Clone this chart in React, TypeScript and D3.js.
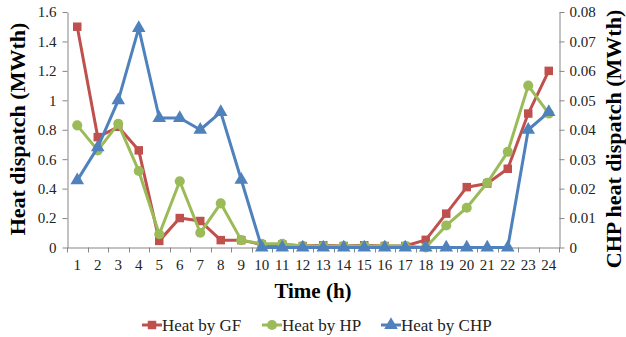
import React, { useRef, useEffect } from "react";
import * as d3 from "d3";

const hours = d3.range(1, 25).map(String);
const heatGF = [1.5, 0.75, 0.82, 0.66, 0.045, 0.2, 0.18, 0.05, 0.05, 0.02, 0.02, 0.01, 0.015, 0.01, 0.015, 0.01, 0.01, 0.052, 0.23, 0.41, 0.435, 0.535, 0.91, 1.2];
const heatHP = [0.83, 0.66, 0.84, 0.52, 0.09, 0.45, 0.1, 0.3, 0.05, 0.025, 0.025, 0.01, 0.01, 0.01, 0.01, 0.01, 0.01, 0.0, 0.15, 0.27, 0.44, 0.65, 1.1, 0.91];
const heatCHP = [0.0228, 0.034, 0.05, 0.0745, 0.044, 0.044, 0.04, 0.046, 0.023, 0, 0, 0, 0, 0, 0, 0, 0, 0, 0, 0, 0, 0, 0.04, 0.046];
const leftTicks = [0, 0.2, 0.4, 0.6, 0.8, 1, 1.2, 1.4, 1.6];
const rightTicks = [0, 0.01, 0.02, 0.03, 0.04, 0.05, 0.06, 0.07, 0.08];

const RED = "#C0504D";
const GREEN = "#9BBB59";
const BLUE = "#4F81BD";
const AXIS = "#868686";
const FONT = "Liberation Serif, Times New Roman, DejaVu Serif, serif";

function HeatChart() {
  const svgRef = useRef<SVGSVGElement>(null);

  useEffect(() => {
    const width = 626;
    const height = 337;
    const margin = { top: 12, right: 67, bottom: 90, left: 67 };
    const svg = d3.select(svgRef.current).attr("width", width).attr("height", height);
    svg.selectAll("*").remove();

    const plotBottom = height - margin.bottom;

    const x = d3.scaleBand().domain(hours).range([margin.left, width - margin.right]);
    const yL = d3.scaleLinear().domain([0, 1.6]).range([plotBottom + 0.5, margin.top]);
    const yR = d3.scaleLinear().domain([0, 0.08]).range([plotBottom + 0.5, margin.top]);
    const cx = (d: string) => (x(d) as number) + x.bandwidth() / 2;

    // Left axis
    const left = svg.append("g")
      .attr("transform", `translate(${margin.left + 0.5},0)`)
      .call(d3.axisLeft(yL).tickValues(leftTicks).tickSize(5).tickSizeOuter(0).tickPadding(6).tickFormat((d) => String(d)));
    // Right axis
    const right = svg.append("g")
      .attr("transform", `translate(${width - margin.right + 0.5},0)`)
      .call(d3.axisRight(yR).tickValues(rightTicks).tickSize(5).tickSizeOuter(0).tickPadding(5).tickFormat((d) => (d === 0 ? "0" : d3.format(".2f")(d as number))));
    // Bottom axis
    const bottom = svg.append("g")
      .attr("transform", `translate(0,${plotBottom + 0.5})`)
      .call(d3.axisBottom(x).tickSize(0).tickPadding(12));

    // category-boundary ticks
    bottom.selectAll(".sep")
      .data(d3.range(0, 25))
      .enter()
      .append("line")
      .attr("x1", (i) => Math.round(margin.left + i * x.step()) + 0.5)
      .attr("x2", (i) => Math.round(margin.left + i * x.step()) + 0.5)
      .attr("y1", 0)
      .attr("y2", 5)
      .attr("stroke", AXIS);

    [left, right, bottom].forEach((g) => {
      g.attr("font-family", null);
      g.selectAll("path").attr("stroke", AXIS);
      g.selectAll(".tick line").attr("stroke", AXIS);
      g.selectAll("text").style("font-family", FONT).style("font-size", "15px").attr("fill", "#222");
    });

    // Axis titles
    svg.append("text")
      .attr("transform", `translate(25,129) rotate(-90)`)
      .attr("text-anchor", "middle")
      .style("font-family", FONT)
      .style("font-weight", "bold")
      .style("font-size", "22px")
      .text("Heat dispatch (MWth)");

    svg.append("text")
      .attr("transform", `translate(621,139) rotate(-90)`)
      .attr("text-anchor", "middle")
      .style("font-family", FONT)
      .style("font-weight", "bold")
      .style("font-size", "22px")
      .text("CHP heat dispatch (MWth)");

    svg.append("text")
      .attr("x", (margin.left + width - margin.right) / 2)
      .attr("y", 298)
      .attr("text-anchor", "middle")
      .style("font-family", FONT)
      .style("font-weight", "bold")
      .style("font-size", "21px")
      .text("Time (h)");

    const series = [
      { name: "Heat by GF", values: heatGF, y: yL, color: RED, marker: "square" },
      { name: "Heat by HP", values: heatHP, y: yL, color: GREEN, marker: "circle" },
      { name: "Heat by CHP", values: heatCHP, y: yR, color: BLUE, marker: "triangle" },
    ];

    const symbolFor = (m: string) =>
      m === "square" ? d3.symbol(d3.symbolSquare, 72) : m === "circle" ? d3.symbol(d3.symbolCircle, 80) : d3.symbol(d3.symbolTriangle, 80);

    series.forEach((s) => {
      const pts = s.values.map((v, i) => [cx(hours[i]), s.y(v)] as [number, number]);
      svg.append("path")
        .attr("d", d3.line()(pts))
        .attr("fill", "none")
        .attr("stroke", s.color)
        .attr("stroke-width", 3)
        .attr("stroke-linejoin", "round");
      svg.append("g")
        .selectAll("path")
        .data(pts)
        .enter()
        .append("path")
        .attr("transform", (p) => `translate(${p[0]},${p[1]})`)
        .attr("d", symbolFor(s.marker)())
        .attr("fill", s.color);
    });

    // Legend
    const legendX = [142, 262, 381];
    const legend = svg.append("g").attr("transform", `translate(0,325)`);
    series.forEach((s, i) => {
      const g = legend.append("g").attr("transform", `translate(${legendX[i]},0)`);
      g.append("line").attr("x1", 0).attr("x2", 20).attr("y1", 0).attr("y2", 0)
        .attr("stroke", s.color).attr("stroke-width", 3);
      g.append("path").attr("transform", "translate(10,0)").attr("d", symbolFor(s.marker)()).attr("fill", s.color);
      g.append("text")
        .attr("x", 20)
        .attr("y", 6)
        .style("font-family", FONT)
        .style("font-size", "17px")
        .attr("fill", "#222")
        .text(s.name);
    });
  }, []);

  return <svg ref={svgRef} style={{ display: "block" }}></svg>;
}

export default function App() {
  return (
    <div style={{ position: "absolute", left: 0, top: 0 }}>
      <HeatChart />
    </div>
  );
}
